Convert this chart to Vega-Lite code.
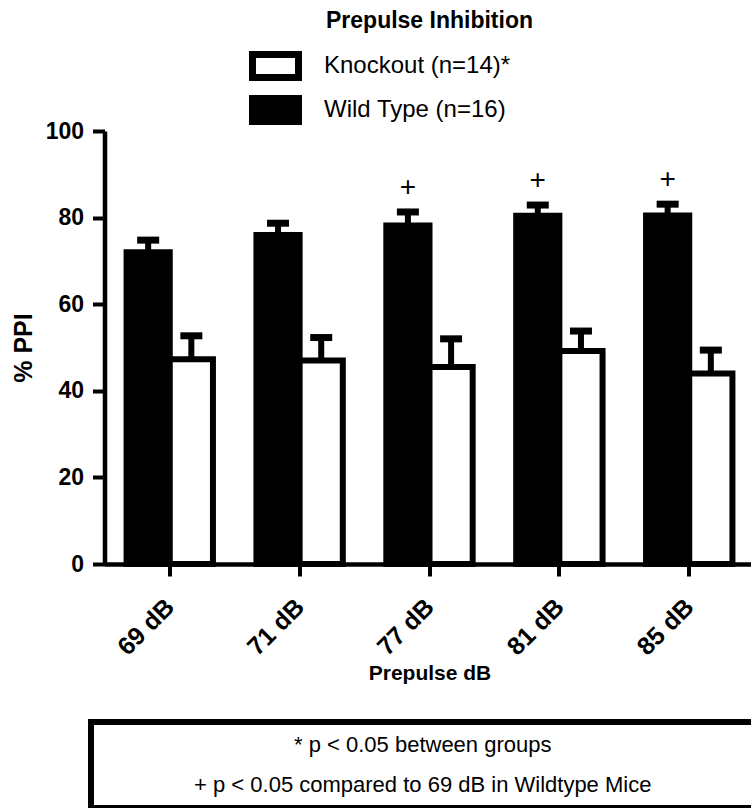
{
  "$schema": "https://vega.github.io/schema/vega-lite/v6.json",
  "background": "white",
  "padding": {"left": 11, "top": 10, "right": 0, "bottom": 0},
  "bounds": "flush",
  "center": true,
  "spacing": 158,
  "config": {
    "view": {"stroke": null},
    "font": "Liberation Sans",
    "text": {"color": "black"}
  },
  "datasets": {
    "ppi": [
      {"db": "69 dB", "group": "Wild Type (n=16)", "mean": 72.0, "upper": 74.8, "sig": ""},
      {"db": "69 dB", "group": "Knockout (n=14)*", "mean": 47.3, "upper": 52.7, "sig": ""},
      {"db": "71 dB", "group": "Wild Type (n=16)", "mean": 76.0, "upper": 78.7, "sig": ""},
      {"db": "71 dB", "group": "Knockout (n=14)*", "mean": 47.0, "upper": 52.3, "sig": ""},
      {"db": "77 dB", "group": "Wild Type (n=16)", "mean": 78.2, "upper": 81.3, "sig": "+"},
      {"db": "77 dB", "group": "Knockout (n=14)*", "mean": 45.5, "upper": 52.0, "sig": ""},
      {"db": "81 dB", "group": "Wild Type (n=16)", "mean": 80.4, "upper": 82.9, "sig": "+"},
      {"db": "81 dB", "group": "Knockout (n=14)*", "mean": 49.2, "upper": 53.8, "sig": ""},
      {"db": "85 dB", "group": "Wild Type (n=16)", "mean": 80.5, "upper": 83.1, "sig": "+"},
      {"db": "85 dB", "group": "Knockout (n=14)*", "mean": 44.0, "upper": 49.4, "sig": ""}
    ],
    "notes": [
      {"line": 1, "note": "* p < 0.05 between groups"},
      {"line": 2, "note": "+ p < 0.05 compared to  69 dB in Wildtype Mice"}
    ]
  },
  "vconcat": [
    {
      "width": 650,
      "height": 433,
      "title": {
        "text": "Prepulse Inhibition",
        "font": "Liberation Sans",
        "fontSize": 23,
        "fontWeight": "bold",
        "color": "black",
        "anchor": "middle",
        "offset": 87
      },
      "data": {"name": "ppi"},
      "encoding": {
        "x": {
          "field": "db",
          "type": "nominal",
          "sort": null,
          "scale": {"paddingInner": 0.335, "paddingOuter": 0.17},
          "axis": {
            "title": "Prepulse dB",
            "titleFont": "Liberation Sans",
            "titleFontSize": 21,
            "titleFontWeight": "bold",
            "titleColor": "black",
            "titlePadding": 3,
            "labelAngle": -45,
            "labelFont": "Liberation Sans",
            "labelFontSize": 25,
            "labelFontWeight": "bold",
            "labelColor": "black",
            "labelPadding": 18,
            "labelOffset": -8,
            "domainColor": "black",
            "domainWidth": 4.5,
            "tickColor": "black",
            "tickWidth": 4,
            "tickSize": 12
          }
        },
        "xOffset": {
          "field": "group",
          "type": "nominal",
          "scale": {"domain": ["Wild Type (n=16)", "Knockout (n=14)*"], "paddingInner": 0, "paddingOuter": 0}
        }
      },
      "layer": [
        {
          "mark": {"type": "bar", "stroke": "black", "strokeWidth": 6, "strokeJoin": "miter"},
          "encoding": {
            "y": {
              "field": "mean",
              "type": "quantitative",
              "scale": {"domain": [0, 100], "nice": false},
              "axis": {
                "title": "% PPI",
                "titleFont": "Liberation Sans",
                "titleFontSize": 25,
                "titleFontWeight": "bold",
                "titleColor": "black",
                "titlePadding": 9,
                "values": [0, 20, 40, 60, 80, 100],
                "grid": false,
                "labelFont": "Liberation Sans",
                "labelFontSize": 23,
                "labelFontWeight": "bold",
                "labelColor": "black",
                "labelPadding": 9,
                "domainColor": "black",
                "domainWidth": 4.5,
                "tickColor": "black",
                "tickWidth": 4,
                "tickSize": 12
              }
            },
            "fill": {
              "field": "group",
              "type": "nominal",
              "scale": {"domain": ["Knockout (n=14)*", "Wild Type (n=16)"], "range": ["white", "black"]},
              "legend": {
                "title": null,
                "orient": "none",
                "legendX": 158,
                "legendY": -86,
                "direction": "vertical",
                "padding": 0,
                "symbolType": "M-1,-0.5H1V0.5H-1Z",
                "symbolSize": 2116,
                "symbolStrokeColor": "black",
                "symbolStrokeWidth": 7,
                "symbolOpacity": 1,
                "labelFont": "Liberation Sans",
                "labelFontSize": 24,
                "labelColor": "black",
                "labelOffset": 22,
                "labelLimit": 0,
                "clipHeight": 42,
                "rowPadding": 2,
                "encode": {
                  "symbols": {"update": {"stroke": {"value": "black"}, "strokeWidth": {"value": 7}}}
                }
              }
            }
          }
        },
        {
          "mark": {"type": "rule", "color": "black", "strokeWidth": 6},
          "encoding": {
            "y": {"field": "mean", "type": "quantitative"},
            "y2": {"field": "upper"}
          }
        },
        {
          "mark": {"type": "tick", "color": "black", "size": 22, "thickness": 7, "opacity": 1},
          "encoding": {
            "y": {"field": "upper", "type": "quantitative"}
          }
        },
        {
          "transform": [{"filter": "datum.sig != ''"}],
          "mark": {"type": "text", "fontSize": 28, "font": "Liberation Sans", "color": "black", "baseline": "middle", "dy": -24},
          "encoding": {
            "y": {"field": "upper", "type": "quantitative"},
            "text": {"field": "sig"}
          }
        }
      ]
    },
    {
      "width": 677,
      "height": 86,
      "view": {"stroke": "black", "strokeWidth": 6},
      "data": {"name": "notes"},
      "mark": {"type": "text", "font": "Liberation Sans", "fontSize": 22, "color": "black", "baseline": "middle"},
      "encoding": {
        "y": {"field": "line", "type": "ordinal", "axis": null, "scale": {"padding": 0.6}},
        "x": {"datum": 0.49, "type": "quantitative", "scale": {"domain": [0, 1]}, "axis": null},
        "text": {"field": "note"}
      }
    }
  ]
}
